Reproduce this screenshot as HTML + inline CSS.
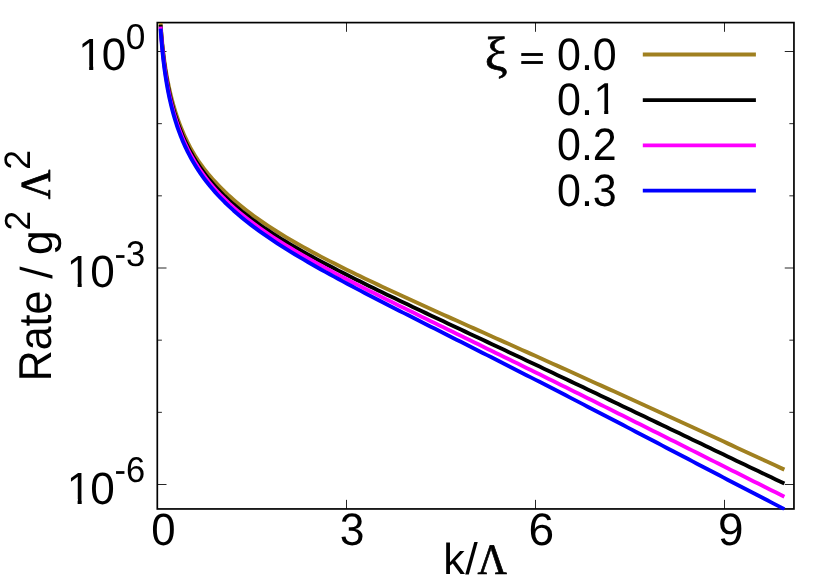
<!DOCTYPE html>
<html><head><meta charset="utf-8"><title>Rate vs k</title>
<style>html,body{margin:0;padding:0;background:#fff;overflow:hidden}svg{display:block;position:absolute;left:0;top:0;will-change:transform}text{font-kerning:none;white-space:pre;text-rendering:geometricPrecision}</style></head><body>
<svg xmlns="http://www.w3.org/2000/svg" width="830" height="580" viewBox="0 0 830 580">
<rect x="0" y="0" width="830" height="580" fill="#fff"/>
<path d="M157.30,51.50h9.2M793.95,51.50h-9.2M157.30,123.67h4.6M793.95,123.67h-4.6M157.30,195.83h4.6M793.95,195.83h-4.6M157.30,268.00h9.2M793.95,268.00h-9.2M157.30,340.17h4.6M793.95,340.17h-4.6M157.30,412.33h4.6M793.95,412.33h-4.6M157.30,484.50h9.2M793.95,484.50h-9.2M346.50,508.95v-9.1M346.50,22.60v9.2M535.50,508.95v-9.1M535.50,22.60v9.2M724.50,508.95v-9.1M724.50,22.60v9.2" stroke="#000" stroke-width="0.85" fill="none"/>
<rect x="157.3" y="22.6" width="636.65" height="486.35" fill="none" stroke="#000" stroke-width="1.7"/>
<clipPath id="c"><rect x="154.3" y="19.6" width="642.6500000000001" height="490.85"/></clipPath>
<g clip-path="url(#c)" fill="none" stroke-width="3.9" stroke-linejoin="round" stroke-linecap="butt">
<path d="M160.58,23.12L160.72,25.09L160.87,27.08L161.02,29.08L161.18,31.10L161.35,33.12L161.52,35.16L161.71,37.21L161.90,39.27L162.10,41.34L162.30,43.42L162.52,45.52L162.75,47.62L162.98,49.74L163.23,51.87L163.49,54.01L163.76,56.16L164.04,58.33L164.33,60.50L164.64,62.69L164.96,64.89L165.29,67.10L165.64,69.32L166.01,71.55L166.39,73.80L166.79,76.06L167.20,78.33L167.63,80.61L168.09,82.91L168.56,85.22L169.05,87.55L169.57,89.88L170.11,92.23L170.67,94.60L171.25,96.98L171.87,99.37L172.51,101.78L173.17,104.20L173.87,106.64L174.60,109.10L175.36,111.57L176.16,114.05L176.99,116.55L177.85,119.07L178.76,121.60L179.70,124.14L180.69,126.70L181.72,129.28L182.79,131.86L183.91,134.46L185.09,137.07L186.31,139.68L187.59,142.31L188.92,144.94L190.32,147.57L191.77,150.20L193.29,152.84L194.88,155.47L196.54,158.10L198.27,160.72L200.08,163.34L201.97,165.96L203.94,168.59L205.99,171.22L208.14,173.86L210.39,176.51L212.73,179.18L215.18,181.88L217.73,184.61L220.40,187.36L224.77,191.69L229.14,195.81L233.52,199.74L237.89,203.50L242.26,207.10L246.63,210.55L251.00,213.88L255.38,217.09L259.75,220.19L264.12,223.20L268.49,226.12L272.86,228.97L277.23,231.74L281.61,234.44L285.98,237.09L290.35,239.68L294.72,242.22L299.09,244.71L303.47,247.16L307.84,249.57L312.21,251.95L316.58,254.29L320.95,256.60L325.33,258.88L329.70,261.13L334.07,263.36L338.44,265.57L342.81,267.75L347.19,269.91L351.56,272.06L355.93,274.19L360.30,276.30L364.67,278.40L369.04,280.49L373.42,282.56L377.79,284.62L382.16,286.67L386.53,288.72L390.90,290.75L395.28,292.77L399.65,294.79L404.02,296.80L408.39,298.80L412.76,300.80L417.14,302.79L421.51,304.78L425.88,306.77L430.25,308.74L434.62,310.72L439.00,312.69L443.37,314.66L447.74,316.63L452.11,318.60L456.48,320.56L460.85,322.52L465.23,324.48L469.60,326.44L473.97,328.40L478.34,330.36L482.71,332.32L487.09,334.27L491.46,336.23L495.83,338.19L500.20,340.14L504.57,342.10L508.95,344.06L513.32,346.02L517.69,347.98L522.06,349.94L526.43,351.90L530.81,353.86L535.18,355.82L539.55,357.78L543.92,359.75L548.29,361.71L552.66,363.68L557.04,365.65L561.41,367.62L565.78,369.59L570.15,371.56L574.52,373.53L578.90,375.51L583.27,377.48L587.64,379.46L592.01,381.44L596.38,383.41L600.76,385.39L605.13,387.38L609.50,389.36L613.87,391.34L618.24,393.33L622.62,395.32L626.99,397.30L631.36,399.29L635.73,401.28L640.10,403.27L644.47,405.26L648.85,407.26L653.22,409.25L657.59,411.24L661.96,413.24L666.33,415.24L670.71,417.23L675.08,419.24L679.45,421.24L683.82,423.24L688.19,425.25L692.57,427.25L696.94,429.26L701.31,431.27L705.68,433.29L710.05,435.30L714.43,437.31L718.80,439.33L723.17,441.34L727.54,443.36L731.91,445.38L736.29,447.40L740.66,449.42L745.03,451.44L749.40,453.46L753.77,455.48L758.14,457.51L762.52,459.53L766.89,461.55L771.26,463.57L775.63,465.60L780.00,467.62L784.38,469.64" stroke="#a08020"/>
<path d="M160.58,24.77L160.72,26.81L160.87,28.86L161.02,30.93L161.18,33.01L161.35,35.10L161.52,37.21L161.71,39.32L161.90,41.46L162.10,43.60L162.30,45.76L162.52,47.93L162.75,50.11L162.98,52.30L163.23,54.51L163.49,56.73L163.76,58.96L164.04,61.20L164.33,63.45L164.64,65.71L164.96,67.99L165.29,70.27L165.64,72.57L166.01,74.88L166.39,77.20L166.79,79.52L167.20,81.86L167.63,84.21L168.09,86.58L168.56,88.95L169.05,91.33L169.57,93.72L170.11,96.12L170.67,98.53L171.25,100.95L171.87,103.39L172.51,105.83L173.17,108.28L173.87,110.74L174.60,113.21L175.36,115.69L176.16,118.18L176.99,120.68L177.85,123.19L178.76,125.71L179.70,128.24L180.69,130.78L181.72,133.33L182.79,135.88L183.91,138.45L185.09,141.03L186.31,143.61L187.59,146.20L188.92,148.81L190.32,151.42L191.77,154.04L193.29,156.68L194.88,159.32L196.54,161.97L198.27,164.63L200.08,167.31L201.97,169.99L203.94,172.69L205.99,175.40L208.14,178.12L210.39,180.85L212.73,183.60L215.18,186.36L217.73,189.13L220.40,191.93L224.77,196.29L229.14,200.42L233.52,204.35L237.89,208.10L242.26,211.69L246.63,215.13L251.00,218.45L255.38,221.66L259.75,224.77L264.12,227.78L268.49,230.71L272.86,233.56L277.23,236.35L281.61,239.07L285.98,241.73L290.35,244.34L294.72,246.90L299.09,249.42L303.47,251.90L307.84,254.34L312.21,256.75L316.58,259.12L320.95,261.47L325.33,263.79L329.70,266.08L334.07,268.35L338.44,270.61L342.81,272.84L347.19,275.05L351.56,277.25L355.93,279.43L360.30,281.60L364.67,283.76L369.04,285.91L373.42,288.04L377.79,290.17L382.16,292.28L386.53,294.39L390.90,296.49L395.28,298.59L399.65,300.68L404.02,302.76L408.39,304.84L412.76,306.91L417.14,308.98L421.51,311.05L425.88,313.12L430.25,315.18L434.62,317.24L439.00,319.30L443.37,321.35L447.74,323.41L452.11,325.46L456.48,327.51L460.85,329.57L465.23,331.62L469.60,333.67L473.97,335.72L478.34,337.78L482.71,339.83L487.09,341.88L491.46,343.94L495.83,345.99L500.20,348.05L504.57,350.11L508.95,352.16L513.32,354.22L517.69,356.28L522.06,358.35L526.43,360.41L530.81,362.47L535.18,364.54L539.55,366.61L543.92,368.67L548.29,370.74L552.66,372.82L557.04,374.89L561.41,376.96L565.78,379.04L570.15,381.12L574.52,383.19L578.90,385.27L583.27,387.36L587.64,389.44L592.01,391.52L596.38,393.61L600.76,395.69L605.13,397.78L609.50,399.87L613.87,401.96L618.24,404.05L622.62,406.14L626.99,408.23L631.36,410.32L635.73,412.41L640.10,414.51L644.47,416.60L648.85,418.70L653.22,420.79L657.59,422.88L661.96,424.98L666.33,427.07L670.71,429.17L675.08,431.27L679.45,433.36L683.82,435.46L688.19,437.56L692.57,439.66L696.94,441.76L701.31,443.86L705.68,445.96L710.05,448.06L714.43,450.16L718.80,452.25L723.17,454.35L727.54,456.45L731.91,458.55L736.29,460.64L740.66,462.74L745.03,464.83L749.40,466.92L753.77,469.01L758.14,471.10L762.52,473.19L766.89,475.28L771.26,477.36L775.63,479.44L780.00,481.52L784.38,483.60" stroke="#000000"/>
<path d="M160.58,26.67L160.72,28.72L160.87,30.78L161.02,32.86L161.18,34.95L161.35,37.06L161.52,39.17L161.71,41.30L161.90,43.45L162.10,45.61L162.30,47.78L162.52,49.96L162.75,52.15L162.98,54.36L163.23,56.58L163.49,58.81L163.76,61.06L164.04,63.31L164.33,65.58L164.64,67.86L164.96,70.14L165.29,72.44L165.64,74.76L166.01,77.08L166.39,79.41L166.79,81.76L167.20,84.11L167.63,86.48L168.09,88.85L168.56,91.24L169.05,93.63L169.57,96.04L170.11,98.46L170.67,100.88L171.25,103.32L171.87,105.76L172.51,108.22L173.17,110.69L173.87,113.16L174.60,115.65L175.36,118.14L176.16,120.64L176.99,123.16L177.85,125.68L178.76,128.21L179.70,130.75L180.69,133.30L181.72,135.86L182.79,138.43L183.91,141.01L185.09,143.60L186.31,146.20L187.59,148.80L188.92,151.42L190.32,154.05L191.77,156.68L193.29,159.33L194.88,161.99L196.54,164.65L198.27,167.33L200.08,170.02L201.97,172.72L203.94,175.44L205.99,178.16L208.14,180.90L210.39,183.66L212.73,186.42L215.18,189.21L217.73,192.01L220.40,194.83L224.77,199.23L229.14,203.41L233.52,207.38L237.89,211.17L242.26,214.80L246.63,218.30L251.00,221.66L255.38,224.92L259.75,228.07L264.12,231.13L268.49,234.11L272.86,237.02L277.23,239.85L281.61,242.63L285.98,245.34L290.35,248.01L294.72,250.62L299.09,253.20L303.47,255.73L307.84,258.23L312.21,260.69L316.58,263.13L320.95,265.53L325.33,267.91L329.70,270.26L334.07,272.60L338.44,274.91L342.81,277.20L347.19,279.48L351.56,281.74L355.93,283.99L360.30,286.22L364.67,288.45L369.04,290.66L373.42,292.86L377.79,295.05L382.16,297.24L386.53,299.41L390.90,301.59L395.28,303.75L399.65,305.91L404.02,308.06L408.39,310.21L412.76,312.36L417.14,314.50L421.51,316.64L425.88,318.78L430.25,320.92L434.62,323.05L439.00,325.19L443.37,327.32L447.74,329.45L452.11,331.58L456.48,333.71L460.85,335.84L465.23,337.97L469.60,340.10L473.97,342.23L478.34,344.37L482.71,346.50L487.09,348.64L491.46,350.77L495.83,352.91L500.20,355.05L504.57,357.19L508.95,359.33L513.32,361.47L517.69,363.61L522.06,365.76L526.43,367.91L530.81,370.06L535.18,372.21L539.55,374.36L543.92,376.52L548.29,378.67L552.66,380.83L557.04,382.99L561.41,385.15L565.78,387.32L570.15,389.48L574.52,391.65L578.90,393.82L583.27,395.99L587.64,398.16L592.01,400.34L596.38,402.51L600.76,404.69L605.13,406.87L609.50,409.05L613.87,411.23L618.24,413.41L622.62,415.59L626.99,417.78L631.36,419.96L635.73,422.15L640.10,424.34L644.47,426.52L648.85,428.71L653.22,430.90L657.59,433.09L661.96,435.28L666.33,437.47L670.71,439.66L675.08,441.85L679.45,444.05L683.82,446.24L688.19,448.44L692.57,450.63L696.94,452.83L701.31,455.03L705.68,457.23L710.05,459.42L714.43,461.62L718.80,463.82L723.17,466.02L727.54,468.22L731.91,470.41L736.29,472.61L740.66,474.81L745.03,477.00L749.40,479.20L753.77,481.39L758.14,483.59L762.52,485.78L766.89,487.97L771.26,490.16L775.63,492.34L780.00,494.53L784.38,496.71" stroke="#ff00ff"/>
<path d="M160.58,28.62L160.72,30.69L160.87,32.76L161.02,34.85L161.18,36.96L161.35,39.08L161.52,41.21L161.71,43.36L161.90,45.52L162.10,47.69L162.30,49.88L162.52,52.08L162.75,54.29L162.98,56.52L163.23,58.75L163.49,61.00L163.76,63.26L164.04,65.54L164.33,67.82L164.64,70.12L164.96,72.43L165.29,74.74L165.64,77.07L166.01,79.42L166.39,81.77L166.79,84.13L167.20,86.50L167.63,88.88L168.09,91.28L168.56,93.68L169.05,96.10L169.57,98.52L170.11,100.95L170.67,103.39L171.25,105.85L171.87,108.31L172.51,110.78L173.17,113.26L173.87,115.75L174.60,118.25L175.36,120.76L176.16,123.27L176.99,125.80L177.85,128.33L178.76,130.88L179.70,133.43L180.69,135.99L181.72,138.56L182.79,141.14L183.91,143.73L185.09,146.33L186.31,148.94L187.59,151.55L188.92,154.18L190.32,156.82L191.77,159.46L193.29,162.12L194.88,164.79L196.54,167.46L198.27,170.15L200.08,172.85L201.97,175.56L203.94,178.29L205.99,181.03L208.14,183.78L210.39,186.55L212.73,189.33L215.18,192.13L217.73,194.95L220.40,197.78L224.77,202.22L229.14,206.42L233.52,210.43L237.89,214.25L242.26,217.92L246.63,221.45L251.00,224.85L255.38,228.15L259.75,231.34L264.12,234.44L268.49,237.46L272.86,240.40L277.23,243.28L281.61,246.10L285.98,248.86L290.35,251.57L294.72,254.23L299.09,256.85L303.47,259.44L307.84,261.98L312.21,264.50L316.58,266.98L320.95,269.44L325.33,271.87L329.70,274.28L334.07,276.66L338.44,279.03L342.81,281.38L347.19,283.72L351.56,286.04L355.93,288.35L360.30,290.64L364.67,292.92L369.04,295.20L373.42,297.46L377.79,299.72L382.16,301.97L386.53,304.21L390.90,306.44L395.28,308.68L399.65,310.90L404.02,313.12L408.39,315.34L412.76,317.56L417.14,319.77L421.51,321.98L425.88,324.19L430.25,326.40L434.62,328.61L439.00,330.82L443.37,333.02L447.74,335.23L452.11,337.44L456.48,339.64L460.85,341.85L465.23,344.06L469.60,346.27L473.97,348.48L478.34,350.69L482.71,352.91L487.09,355.12L491.46,357.34L495.83,359.56L500.20,361.78L504.57,364.00L508.95,366.23L513.32,368.45L517.69,370.68L522.06,372.91L526.43,375.15L530.81,377.38L535.18,379.62L539.55,381.86L543.92,384.10L548.29,386.35L552.66,388.60L557.04,390.85L561.41,393.10L565.78,395.35L570.15,397.61L574.52,399.86L578.90,402.13L583.27,404.39L587.64,406.65L592.01,408.92L596.38,411.19L600.76,413.46L605.13,415.73L609.50,418.00L613.87,420.28L618.24,422.55L622.62,424.83L626.99,427.11L631.36,429.39L635.73,431.67L640.10,433.95L644.47,436.24L648.85,438.52L653.22,440.81L657.59,443.09L661.96,445.38L666.33,447.67L670.71,449.95L675.08,452.24L679.45,454.53L683.82,456.82L688.19,459.10L692.57,461.39L696.94,463.68L701.31,465.96L705.68,468.25L710.05,470.53L714.43,472.82L718.80,475.10L723.17,477.38L727.54,479.66L731.91,481.94L736.29,484.22L740.66,486.49L745.03,488.77L749.40,491.04L753.77,493.31L758.14,495.57L762.52,497.84L766.89,500.10L771.26,502.36L775.63,504.62L780.00,506.87L784.38,509.12" stroke="#0000ff"/>
</g>
<path d="M642.8,54.50H755.9" stroke="#a08020" stroke-width="3.8" fill="none"/>
<path d="M642.8,100.10H755.9" stroke="#000" stroke-width="3.8" fill="none"/>
<path d="M642.8,145.30H755.9" stroke="#ff00ff" stroke-width="3.8" fill="none"/>
<path d="M642.8,190.70H755.9" stroke="#0000ff" stroke-width="3.8" fill="none"/>
<text transform="translate(557.02,69.66) scale(0.9481,1)" font-family="Liberation Sans" font-size="45.34" fill="#000">0.0</text>
<text transform="translate(557.02,115.01) scale(0.9481,1)" font-family="Liberation Sans" font-size="45.34" fill="#000">0.</text>
<text transform="translate(557.02,160.36) scale(0.9481,1)" font-family="Liberation Sans" font-size="45.34" fill="#000">0.2</text>
<text transform="translate(557.02,205.71) scale(0.9481,1)" font-family="Liberation Sans" font-size="45.34" fill="#000">0.3</text>
<clipPath id="o1"><polygon points="591.39,80.60 608.25,80.60 608.25,116.40 604.21,116.40 604.21,109.76 591.39,109.76"/></clipPath><g clip-path="url(#o1)"><text transform="translate(593.39,114.40) scale(0.9700,1)" font-family="Liberation Sans" font-size="44.77" fill="#000">1</text></g>
<text transform="translate(519.79,69.42) scale(1.3202,1)" font-family="Liberation Sans" font-size="31.96" fill="#000" stroke="#000" stroke-width="0.776" stroke-linejoin="round">=</text>
<text transform="translate(484.70,69.91) scale(1.0710,1)" font-family="Liberation Serif" font-size="47.74" fill="#000" stroke="#000" stroke-width="0.676" stroke-linejoin="round">ξ</text>
<clipPath id="o2"><polygon points="76.25,36.00 93.25,36.00 93.25,72.10 89.17,72.10 89.17,65.42 76.25,65.42"/></clipPath><g clip-path="url(#o2)"><text transform="translate(78.25,70.10) scale(0.9700,1)" font-family="Liberation Sans" font-size="45.20" fill="#000">1</text></g>
<text transform="translate(101.78,70.46) scale(0.9689,1)" font-family="Liberation Sans" font-size="45.34" fill="#000">0</text>
<text transform="translate(125.82,49.05) scale(0.9845,1)" font-family="Liberation Sans" font-size="35.80" fill="#000">0</text>
<clipPath id="o3"><polygon points="64.70,252.80 81.70,252.80 81.70,288.90 77.62,288.90 77.62,282.22 64.70,282.22"/></clipPath><g clip-path="url(#o3)"><text transform="translate(66.70,286.90) scale(0.9700,1)" font-family="Liberation Sans" font-size="45.20" fill="#000">1</text></g>
<text transform="translate(90.18,287.16) scale(0.9766,1)" font-family="Liberation Sans" font-size="45.20" fill="#000">0</text>
<text transform="translate(114.46,265.55) scale(0.9680,1)" font-family="Liberation Sans" font-size="35.73" fill="#000">-3</text>
<clipPath id="o4"><polygon points="64.70,469.50 81.70,469.50 81.70,505.60 77.62,505.60 77.62,498.92 64.70,498.92"/></clipPath><g clip-path="url(#o4)"><text transform="translate(66.70,503.60) scale(0.9700,1)" font-family="Liberation Sans" font-size="45.20" fill="#000">1</text></g>
<text transform="translate(90.18,503.86) scale(0.9766,1)" font-family="Liberation Sans" font-size="45.20" fill="#000">0</text>
<text transform="translate(114.47,482.25) scale(0.9645,1)" font-family="Liberation Sans" font-size="35.73" fill="#000">-6</text>
<text transform="translate(151.29,544.56) scale(0.9673,1)" font-family="Liberation Sans" font-size="45.20" fill="#000">0</text>
<text transform="translate(339.71,544.76) scale(0.9785,1)" font-family="Liberation Sans" font-size="45.48" fill="#000">3</text>
<text transform="translate(528.41,544.76) scale(1.0126,1)" font-family="Liberation Sans" font-size="45.48" fill="#000">6</text>
<text transform="translate(717.95,544.76) scale(1.0092,1)" font-family="Liberation Sans" font-size="45.48" fill="#000">9</text>
<text transform="translate(443.18,573.90) scale(0.9931,1)" font-family="Liberation Sans" font-size="43.61" fill="#000">k</text>
<text transform="translate(465.20,574.37) scale(1.0166,1)" font-family="Liberation Sans" font-size="44.26" fill="#000">/</text>
<text transform="translate(477.55,573.55) scale(0.9363,1)" font-family="Liberation Serif" font-size="43.47" fill="#000" stroke="#000" stroke-width="0.723" stroke-linejoin="round">Λ</text>
<text transform="translate(51.00,381.37) rotate(-90) scale(0.9317,1)" font-family="Liberation Sans" font-size="46.08" fill="#000">Rate</text>
<text transform="translate(51.56,278.70) rotate(-90) scale(0.9912,1)" font-family="Liberation Sans" font-size="44.66" fill="#000">/</text>
<text transform="translate(51.51,255.06) rotate(-90) scale(0.9889,1)" font-family="Liberation Sans" font-size="44.75" fill="#000">g</text>
<text transform="translate(29.90,230.47) rotate(-90) scale(0.9693,1)" font-family="Liberation Sans" font-size="36.23" fill="#000">2</text>
<text transform="translate(50.45,199.20) rotate(-90) scale(0.9595,1)" font-family="Liberation Serif" font-size="42.72" fill="#000" stroke="#000" stroke-width="0.714" stroke-linejoin="round">Λ</text>
<text transform="translate(30.30,169.79) rotate(-90) scale(0.9661,1)" font-family="Liberation Sans" font-size="36.81" fill="#000">2</text>
</svg></body></html>
